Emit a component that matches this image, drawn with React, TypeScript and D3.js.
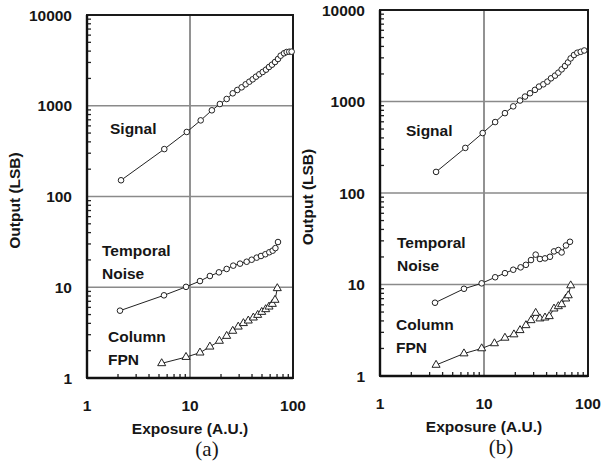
import React from "react";
import * as d3 from "d3";

// panel (a)
const sigAX = [2.14, 5.63, 9.3, 12.7, 16.3, 19.5, 22.7, 26, 28.8, 31.7, 34.7, 37.7, 40.6, 43.7, 47.1, 50.8, 54.7, 58.5, 62.5, 66.9, 71.5, 75.9, 81.8, 86.8, 92, 97];
const sigAY = [151, 333, 514, 690, 891, 1045, 1187, 1371, 1492, 1596, 1722, 1841, 1955, 2090, 2222, 2355, 2497, 2673, 2834, 3033, 3273, 3563, 3785, 3910, 3940, 3944];
const tnAX = [2.09, 5.59, 9.15, 12.5, 15.6, 19.1, 22.7, 26.3, 30.6, 35.5, 39.7, 44.4, 48.9, 53.9, 58.9, 63.5, 67.5, 71.5];
const tnAY = [5.52, 8.15, 10.1, 11.7, 13.3, 14.6, 15.9, 17.3, 18.2, 19.1, 20.1, 21.2, 22.1, 23.1, 24.3, 25.3, 27, 31.5];
const fpnAX = [5.31, 9.15, 12.5, 15.6, 19.3, 22.7, 26, 29.4, 33, 36.8, 41.2, 45.4, 49.7, 54.3, 58.5, 63, 66.9, 70.4];
const fpnAY = [1.45, 1.7, 1.9, 2.21, 2.56, 2.9, 3.3, 3.67, 4.01, 4.28, 4.62, 4.94, 5.33, 5.71, 6.1, 6.53, 7.24, 9.73];

// panel (b)
const sigBX = [3.46, 6.61, 9.71, 12.8, 15.9, 19.1, 22.2, 24.8, 27.7, 30.9, 33.8, 37.2, 40.7, 44.1, 48.2, 51.9, 55.8, 60.1, 64.2, 68.1, 73.3, 78.9, 85.1, 92.1];
const sigBY = [170, 311, 452, 596, 746, 885, 1025, 1132, 1231, 1340, 1455, 1541, 1649, 1792, 1918, 2066, 2244, 2443, 2673, 2958, 3221, 3412, 3493, 3611];
const tnBX = [3.38, 6.42, 9.5, 12.8, 15.9, 19.1, 22.5, 25.3, 28.3, 31.4, 34.5, 38.6, 43.1, 47.1, 51.9, 55.8, 61.4, 67.1];
const tnBY = [6.32, 8.98, 10.3, 12.0, 13.3, 14.5, 15.4, 16.4, 18.5, 21.2, 19.0, 19.3, 20.1, 23.0, 23.8, 22.4, 26.7, 29.3];
const fpnBX = [3.46, 6.42, 9.5, 12.6, 15.9, 19.4, 22.2, 25.3, 28.3, 31.4, 34.5, 38.6, 42.4, 47.1, 51.9, 55.8, 61.1, 64.6, 68.2];
const fpnBY = [1.32, 1.76, 2.0, 2.27, 2.61, 2.84, 3.16, 3.58, 4.06, 4.88, 4.24, 4.34, 4.49, 5.44, 5.77, 6.06, 7.0, 7.59, 9.75];

const xTicks = [1, 10, 100];
const yTicks = [1, 10, 100, 1000, 10000];
const xTitle = "Exposure (A.U.)";
const yTitle = "Output (LSB)";

const FONT = "'Liberation Sans', Arial, sans-serif";
const INK = "#161616";

const zip = (xs: number[], ys: number[]) => xs.map((x, i) => [x, ys[i]] as [number, number]);

type PanelProps = {
  left: number; right: number; top: number; bottom: number;
  caption: string;
  signal: [number, number][];
  noise: [number, number][];
  fpn: [number, number][];
  labels: { signal: [number, number]; noise: [number, number]; fpn: [number, number] };
};

const Panel = ({ left, right, top, bottom, caption, signal, noise, fpn, labels }: PanelProps) => {
  const x = d3.scaleLog().domain([1, 100]).range([left, right]);
  const y = d3.scaleLog().domain([1, 10000]).range([bottom, top]);
  const line = d3.line<[number, number]>().x((d) => x(d[0])).y((d) => y(d[1]));
  const tri = d3.symbol().type(d3.symbolTriangle).size(28)() as string;

  const minorX: number[] = [];
  [1, 10].forEach((b) => d3.range(2, 10).forEach((m) => minorX.push(b * m)));
  const minorY: number[] = [];
  [1, 10, 100, 1000].forEach((b) => d3.range(2, 10).forEach((m) => minorY.push(b * m)));

  const midX = (left + right) / 2;
  const midY = (top + bottom) / 2;

  return (
    <g>
      {/* grid */}
      {[10].map((v) => (
        <line key={"gx" + v} x1={x(v)} x2={x(v)} y1={top} y2={bottom} stroke="#6e6e6e" strokeWidth={1.5} />
      ))}
      {[10, 100, 1000].map((v) => (
        <line key={"gy" + v} x1={left} x2={right} y1={y(v)} y2={y(v)} stroke="#8a8a8a" strokeWidth={1.5} />
      ))}
      {/* minor ticks */}
      {minorY.map((v) => (
        <line key={"my" + v} x1={left} x2={left + 4} y1={y(v)} y2={y(v)} stroke="#222" strokeWidth={1.3} />
      ))}
      {minorX.map((v) => (
        <line key={"mx" + v} x1={x(v)} x2={x(v)} y1={bottom} y2={bottom - 4} stroke="#222" strokeWidth={1.3} />
      ))}
      {/* frame */}
      <rect x={left} y={top} width={right - left} height={bottom - top} fill="none" stroke="#1a1a1a" strokeWidth={2} />
      <line x1={left} x2={left} y1={top} y2={bottom} stroke="#111" strokeWidth={2.4} />
      <line x1={left} x2={right} y1={bottom} y2={bottom} stroke="#111" strokeWidth={2.4} />

      {/* tick labels */}
      {yTicks.map((v) => (
        <text key={"yl" + v} x={left - 15} y={y(v)} dy="0.36em" textAnchor="end" fontFamily={FONT} fontWeight="bold" fontSize={15.5} fill={INK}>
          {v}
        </text>
      ))}
      {xTicks.map((v) => (
        <text key={"xl" + v} x={x(v)} y={bottom + 27} dy="0.36em" textAnchor="middle" fontFamily={FONT} fontWeight="bold" fontSize={15.5} fill={INK}>
          {v}
        </text>
      ))}
      <text x={midX} y={bottom + 56} textAnchor="middle" fontFamily={FONT} fontWeight="bold" fontSize={15.5} fill={INK}>
        {xTitle}
      </text>
      <text transform={`translate(${left - 67},${midY + 4}) rotate(-90)`} textAnchor="middle" fontFamily={FONT} fontWeight="bold" fontSize={15.5} fill={INK}>
        {yTitle}
      </text>
      <text x={midX + 17} y={bottom + 78} textAnchor="middle" fontFamily="'Liberation Serif', 'Times New Roman', serif" fontSize={21} fill={INK}>
        {caption}
      </text>

      {/* series labels */}
      <text x={labels.signal[0]} y={labels.signal[1]} fontFamily={FONT} fontWeight="bold" fontSize={15.5} fill={INK}>Signal</text>
      <text x={labels.noise[0]} y={labels.noise[1]} fontFamily={FONT} fontWeight="bold" fontSize={15.5} fill={INK}>Temporal</text>
      <text x={labels.noise[0]} y={labels.noise[1] + 23} fontFamily={FONT} fontWeight="bold" fontSize={15.5} fill={INK}>Noise</text>
      <text x={labels.fpn[0]} y={labels.fpn[1]} fontFamily={FONT} fontWeight="bold" fontSize={15.5} fill={INK}>Column</text>
      <text x={labels.fpn[0]} y={labels.fpn[1] + 23} fontFamily={FONT} fontWeight="bold" fontSize={15.5} fill={INK}>FPN</text>

      {/* series */}
      {[signal, noise, fpn].map((s, i) => (
        <path key={"ln" + i} d={line(s) || ""} fill="none" stroke="#222" strokeWidth={1} />
      ))}
      {[signal, noise].map((s, i) =>
        s.map((d, j) => (
          <circle key={"c" + i + "-" + j} cx={x(d[0])} cy={y(d[1])} r={2.8} fill="#fff" stroke="#222" strokeWidth={1} />
        ))
      )}
      {fpn.map((d, j) => (
        <path key={"t" + j} d={tri} transform={`translate(${x(d[0])},${y(d[1])})`} fill="#fff" stroke="#222" strokeWidth={1} />
      ))}
    </g>
  );
};

export default function App() {
  return (
    <svg width={609} height={473} style={{ position: "absolute", left: 0, top: 0, background: "#fff" }}>
      <rect width={609} height={473} fill="#fff" />
      <Panel
        left={87} right={293} top={15} bottom={378} caption="(a)"
        signal={zip(sigAX, sigAY)} noise={zip(tnAX, tnAY)} fpn={zip(fpnAX, fpnAY)}
        labels={{ signal: [110, 134], noise: [102, 256], fpn: [108, 342] }}
      />
      <Panel
        left={380} right={588} top={10} bottom={376} caption="(b)"
        signal={zip(sigBX, sigBY)} noise={zip(tnBX, tnBY)} fpn={zip(fpnBX, fpnBY)}
        labels={{ signal: [406, 136], noise: [397, 248], fpn: [396, 330] }}
      />
    </svg>
  );
}
